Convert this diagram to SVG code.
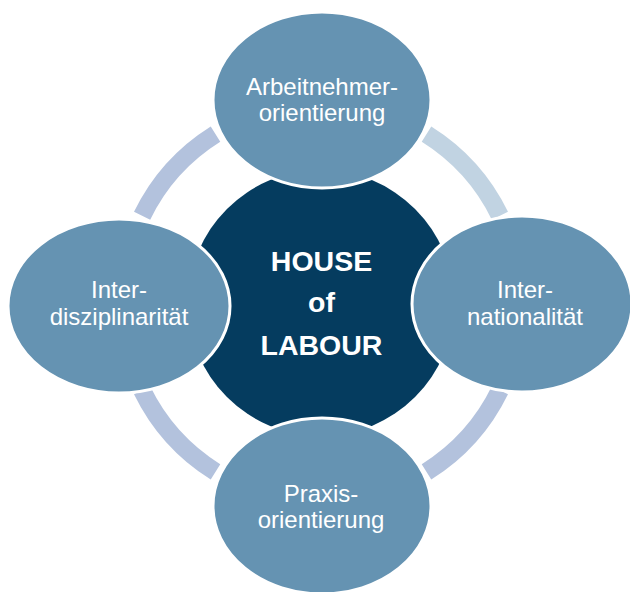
<svg xmlns="http://www.w3.org/2000/svg" width="630" height="592" viewBox="0 0 630 592">
  <style>
    .ring { fill: none; stroke-width: 18; stroke-linecap: butt; }
    .ring-a { stroke: #b3c2dd; }
    .ring-b { stroke: #c1d3e2; }
    .pillar { fill: #6593b2; stroke: #ffffff; stroke-width: 3; }
    .pillar-text { font-family: "Liberation Sans", Arial, sans-serif; font-size: 24px; fill: #ffffff; text-anchor: middle; }
    .core { fill: #053c5f; }
    .core-text { font-family: "Liberation Sans", Arial, sans-serif; font-size: 28.5px; font-weight: bold; fill: #ffffff; text-anchor: middle; }
  </style>
  <rect width="630" height="592" fill="#ffffff"/>

  <!-- ring segments linking the four pillars -->
  <g id="connectors">
    <path class="ring ring-a" d="M142.1,215.8 A199,199 0 0 1 215.5,134.2"/>
    <path class="ring ring-b" d="M426.5,134.2 A199,199 0 0 1 499.9,215.8"/>
    <path class="ring ring-a" d="M499.9,390.2 A199,199 0 0 1 426.5,471.8"/>
    <path class="ring ring-a" d="M215.5,471.8 A199,199 0 0 1 142.1,390.2"/>
  </g>

  <g id="house-of-labour">
    <circle class="core" cx="321" cy="303" r="133"/>
    <text class="core-text" x="321.5" y="271">HOUSE</text>
    <text class="core-text" x="321.5" y="312">of</text>
    <text class="core-text" x="321.5" y="355">LABOUR</text>
  </g>

  <g id="arbeitnehmerorientierung">
    <ellipse class="pillar" cx="322" cy="100" rx="109" ry="88"/>
    <text class="pillar-text" x="322" y="95">Arbeitnehmer-</text>
    <text class="pillar-text" x="322" y="121">orientierung</text>
  </g>

  <g id="interdisziplinaritaet">
    <ellipse class="pillar" cx="119" cy="306" rx="111" ry="87"/>
    <text class="pillar-text" x="119" y="298">Inter-</text>
    <text class="pillar-text" x="119" y="325">disziplinarität</text>
  </g>

  <g id="internationalitaet">
    <ellipse class="pillar" cx="522" cy="304" rx="110" ry="88"/>
    <text class="pillar-text" x="525" y="298">Inter-</text>
    <text class="pillar-text" x="525" y="325">nationalität</text>
  </g>

  <g id="praxisorientierung">
    <ellipse class="pillar" cx="322" cy="506" rx="109" ry="88"/>
    <text class="pillar-text" x="321" y="502">Praxis-</text>
    <text class="pillar-text" x="321" y="528">orientierung</text>
  </g>
</svg>
